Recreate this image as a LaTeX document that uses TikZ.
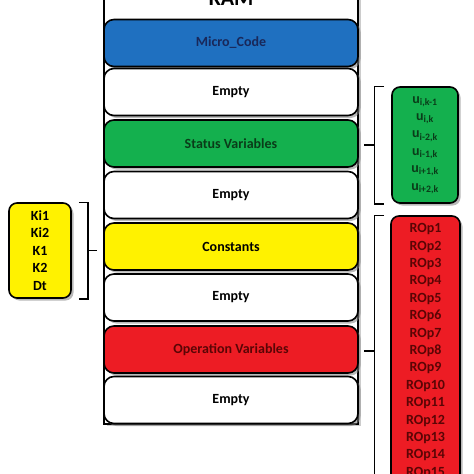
\documentclass[tikz,border=0pt]{standalone}
\usepackage{fontspec}
\setmainfont{Carlito}
\usetikzlibrary{shadows}

\definecolor{ramblue}{RGB}{31,112,192}
\definecolor{ramgreen}{RGB}{20,176,78}
\definecolor{ramyellow}{RGB}{255,242,0}
\definecolor{ramred}{RGB}{237,28,36}
\definecolor{navytext}{RGB}{25,40,90}
\definecolor{greentext}{RGB}{10,60,25}
\definecolor{redtext}{RGB}{90,5,5}

\tikzset{
    slot/.style={draw=black,line width=1.6pt,rounded corners=10pt,
        minimum width=254pt,minimum height=47pt,inner sep=0pt,
        font=\fontsize{14}{16}\selectfont\bfseries,
        drop shadow={shadow xshift=2.5pt,shadow yshift=-2.5pt,opacity=0.55}},
    varlist/.style={draw=black,line width=1.6pt,rounded corners=8pt,
        inner sep=0pt,align=center,
        font=\fontsize{14}{17.4}\selectfont\bfseries,
        drop shadow={shadow xshift=2.5pt,shadow yshift=-2.5pt,opacity=0.55}},
    bracket/.style={draw=black,line width=1.4pt}
}

\begin{document}
\begin{tikzpicture}[x=1pt,y=-1pt]
    \useasboundingbox (0,0) rectangle (474,474);
    \clip (0,0) rectangle (474,474);
    \fill[white] (0,0) rectangle (474,474);

    % the RAM frame
    \node[draw=black,line width=1.4pt,fill=white,minimum width=254pt,minimum height=460pt,
        drop shadow={shadow xshift=3pt,shadow yshift=-2pt,opacity=0.4}] (ram) at (231,194) {};
    \node[anchor=base,font=\fontsize{22}{24}\selectfont\bfseries] (title) at (231,5) {RAM};

    % memory slots
    \node[slot,fill=ramblue,text=navytext] (micro) at (231,43) {Micro\_Code};
    \node[slot,fill=white] (empty1) at (231,92) {Empty};
    \node[slot,fill=ramgreen,text=greentext] (status) at (231,143.5) {Status Variables};
    \node[slot,fill=white] (empty2) at (231,195) {Empty};
    \node[slot,fill=ramyellow] (consts) at (231,246.5) {Constants};
    \node[slot,fill=white] (empty3) at (231,297.5) {Empty};
    \node[slot,fill=ramred,text=redtext] (opvars) at (231,349.5) {Operation Variables};
    \node[slot,fill=white] (empty4) at (231,400) {Empty};

    % contents of the slots
    \node[varlist,fill=ramgreen,text=greentext,minimum width=66pt,minimum height=116pt] (uvars) at (425,145)
        {u\textsubscript{i,k-1}\\u\textsubscript{i,k}\\u\textsubscript{i-2,k}\\u\textsubscript{i-1,k}\\u\textsubscript{i+1,k}\\u\textsubscript{i+2,k}};
    \node[varlist,fill=ramyellow,minimum width=62pt,minimum height=95pt] (kvars) at (40,250.5)
        {Ki1\\Ki2\\K1\\K2\\Dt};
    \node[varlist,fill=ramred,text=redtext,minimum width=69pt,minimum height=270pt] (ropvars) at (425.5,351)
        {ROp1\\ROp2\\ROp3\\ROp4\\ROp5\\ROp6\\ROp7\\ROp8\\ROp9\\ROp10\\ROp11\\ROp12\\ROp13\\ROp14\\ROp15};

    % brackets
    \coordinate (ubr) at ([xshift=-17pt]uvars.west);
    \draw[bracket] ([xshift=-7pt]uvars.north west) -- (ubr |- uvars.north) -- (ubr |- uvars.south) -- ([xshift=-7pt]uvars.south west);
    \draw[bracket] (ubr) -- ([xshift=5pt]ubr -| status.east);

    \coordinate (kbr) at ([xshift=16pt]kvars.east);
    \draw[bracket] ([xshift=7pt]kvars.north east) -- (kbr |- kvars.north) -- (kbr |- kvars.south) -- ([xshift=7pt]kvars.south east);
    \draw[bracket] (kbr) -- ([xshift=-6pt]kbr -| consts.west);

    \coordinate (rbr) at ([xshift=-16pt]ropvars.west);
    \draw[bracket] ([xshift=-6pt]ropvars.north west) -- (rbr |- ropvars.north) -- (rbr |- ropvars.south) -- ([xshift=-6pt]ropvars.south west);
    \draw[bracket] (rbr) -- ([xshift=5pt]rbr -| opvars.east);
\end{tikzpicture}
\end{document}
